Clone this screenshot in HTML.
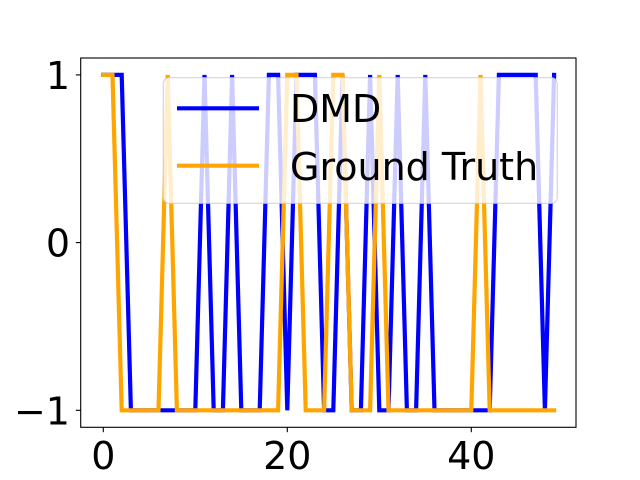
<!DOCTYPE html>
<html><head><meta charset="utf-8"><style>body{margin:0;background:#fff}svg{display:block}text{font-family:"DejaVu Sans","Liberation Sans",sans-serif}</style></head>
<body>
<svg id="chart" width="640" height="480" viewBox="0 0 640 480" xmlns="http://www.w3.org/2000/svg">
<rect x="0" y="0" width="640" height="480" fill="#fff"/>
<g id="plot"></g>
<rect x="80.7" y="58" width="495.3" height="369.3" fill="none" stroke="#000" stroke-width="1.1"/>
<g id="ticks"></g>
<g>
<rect x="163.3" y="77.7" width="394" height="125.6" rx="6" fill="#fff" fill-opacity="0.8" stroke="#ccc" stroke-opacity="0.8" stroke-width="1.2"/>
<line x1="177" y1="108.3" x2="259" y2="108.3" stroke="#0000ff" stroke-width="4.2"/>
<text x="290" y="122" font-size="38">DMD</text>
<line x1="177" y1="165.7" x2="259" y2="165.7" stroke="#ffa500" stroke-width="4.2"/>
<text x="290" y="180" font-size="38">Ground Truth</text>
</g>
</svg>
<script>
const dmd = [1,1,1,-1,-1,-1,-1,-1,-1,-1,-1,1,-1,-1,1,-1,-1,-1,1,1,-1,1,1,1,-1,-1,1,-1,-1,1,-1,-1,1,-1,-1,1,-1,-1,-1,-1,-1,-1,-1,1,1,1,1,1,-1,1];
const groundTruth = [1,1,-1,-1,-1,-1,-1,1,-1,-1,-1,-1,-1,-1,-1,-1,-1,-1,-1,-1,1,1,-1,-1,-1,1,1,-1,-1,-1,1,-1,-1,-1,-1,-1,-1,-1,-1,-1,-1,1,-1,-1,-1,-1,-1,-1,-1,-1];
const xTicks = [0,20,40];
const yTicks = [-1,0,1];
const yTickLabels = ["\u22121","0","1"];

const NS = "http://www.w3.org/2000/svg";
function xScale(i){ return 103.3 + 9.2 * i; }
function yScale(v){ return 242.6 - 167.7 * v; }

const plot = document.getElementById('plot');
function drawSeries(vals, color, name){
  const p = document.createElementNS(NS,'polyline');
  p.setAttribute('points', vals.map((v,i)=>xScale(i)+','+yScale(v)).join(' '));
  p.setAttribute('fill','none');
  p.setAttribute('stroke',color);
  p.setAttribute('stroke-width','4.2');
  p.setAttribute('stroke-linejoin','miter');
  p.setAttribute('stroke-linecap','square');
  
  
  plot.appendChild(p);
}
drawSeries(dmd,'#0000ff','dmd-line');
drawSeries(groundTruth,'#ffa500','ground-truth-line');

const ticks = document.getElementById('ticks');
xTicks.forEach(t=>{
  const x = xScale(t);
  const l = document.createElementNS(NS,'line');
  l.setAttribute('x1',x); l.setAttribute('x2',x);
  l.setAttribute('y1',427.3); l.setAttribute('y2',432.2);
  l.setAttribute('stroke','#000'); l.setAttribute('stroke-width','1.1');
  
  
  ticks.appendChild(l);
  const tx = document.createElementNS(NS,'text');
  tx.setAttribute('x',x); tx.setAttribute('y',469);
  tx.setAttribute('font-size','38'); tx.setAttribute('text-anchor','middle');
  tx.textContent = String(t);
  
  
  ticks.appendChild(tx);
});
yTicks.forEach((t,k)=>{
  const y = yScale(t);
  const l = document.createElementNS(NS,'line');
  l.setAttribute('x1',75.8); l.setAttribute('x2',80.7);
  l.setAttribute('y1',y); l.setAttribute('y2',y);
  l.setAttribute('stroke','#000'); l.setAttribute('stroke-width','1.1');
  
  
  ticks.appendChild(l);
  const tx = document.createElementNS(NS,'text');
  tx.setAttribute('x',70); tx.setAttribute('y',y+14);
  tx.setAttribute('font-size','38'); tx.setAttribute('text-anchor','end');
  tx.textContent = yTickLabels[k];
  
  
  ticks.appendChild(tx);
});
</script>
</body></html>
